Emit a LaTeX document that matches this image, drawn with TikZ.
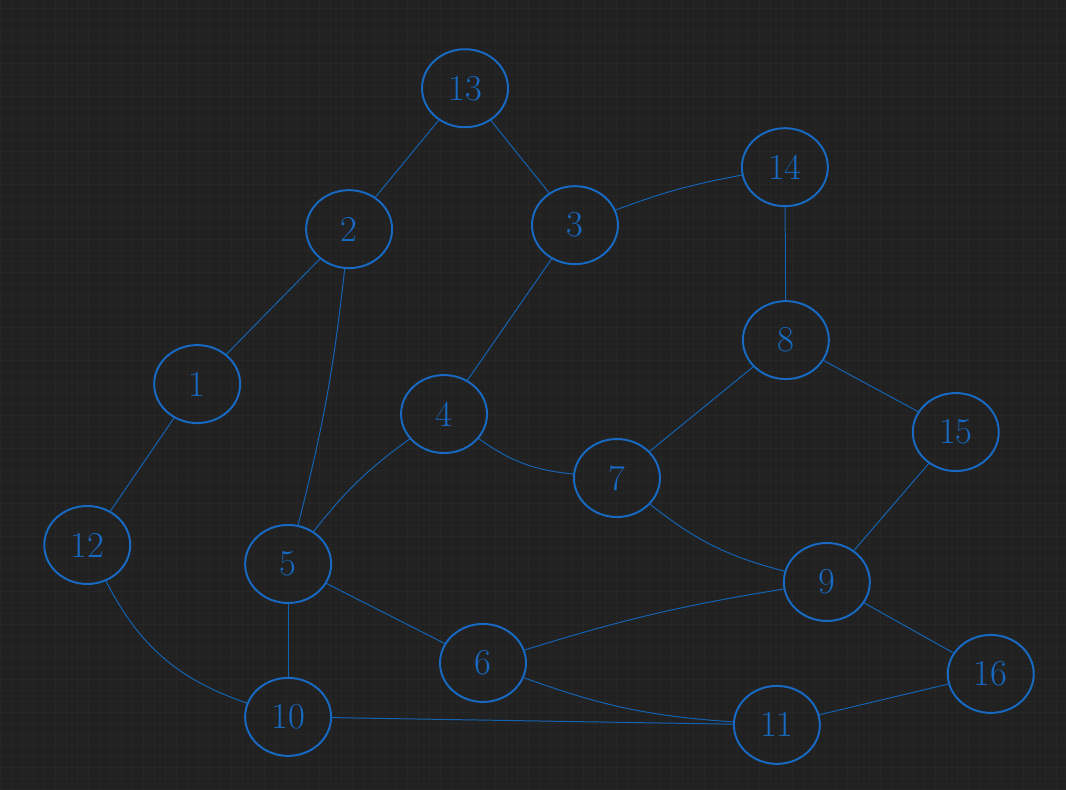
\documentclass[tikz,border=0pt]{standalone}
\usepackage{xcolor}
\usepackage{tikz}
\usetikzlibrary{shapes.geometric}
\definecolor{board}{HTML}{212121}
\definecolor{gridc}{HTML}{262626}
\definecolor{ink}{HTML}{1769C2}
\definecolor{inkthin}{HTML}{1463B3}
\tikzset{
  vtx/.style={draw=ink, ellipse, line width=1.4pt, minimum width=2.15cm, minimum height=1.95cm,
    inner sep=0pt, text=ink, font=\fontsize{26}{26}\selectfont},
  wire/.style={draw=inkthin, line width=0.7pt, line cap=round},
}
\begin{document}
\begin{tikzpicture}[x=0.025cm, y=0.025cm]
  \fill[board] (0,0) rectangle (1066,789);
  \draw[gridc, line width=0.4pt, step=0.275cm] (0,0) grid (1066,789);
  \useasboundingbox (0,0) rectangle (1066,789);

  \node[vtx] (n13) at (465,701) {13};
  \node[vtx] (n14) at (785,622) {14};
  \node[vtx] (n2)  at (349,560) {2};
  \node[vtx] (n3)  at (575,564) {3};
  \node[vtx] (n1)  at (197,405) {1};
  \node[vtx] (n8)  at (786,449) {8};
  \node[vtx] (n4)  at (444,375) {4};
  \node[vtx] (n7)  at (617,311) {7};
  \node[vtx] (n15) at (956,357) {15};
  \node[vtx] (n12) at (87,244)  {12};
  \node[vtx] (n5)  at (288,225) {5};
  \node[vtx] (n9)  at (827,207) {9};
  \node[vtx] (n6)  at (483,126) {6};
  \node[vtx] (n16) at (991,115) {16};
  \node[vtx] (n10) at (288,72)  {10};
  \node[vtx] (n11) at (777,64)  {11};

  \draw[wire] (n13) -- (n2);
  \draw[wire] (n13) -- (n3);
  \draw[wire] (n3) to[bend left=5] (n14);
  \draw[wire] (n14) -- (n8);
  \draw[wire] (n2) -- (n1);
  \draw[wire] (n2) to[bend left=4] (n5);
  \draw[wire] (n3) -- (n4);
  \draw[wire] (n8) -- (n7);
  \draw[wire] (n8) -- (n15);
  \draw[wire] (n4) to[bend right=15] (n7);
  \draw[wire] (n4) to[bend right=8] (n5);
  \draw[wire] (n1) -- (n12);
  \draw[wire] (n7) to[bend right=12] (n9);
  \draw[wire] (n15) -- (n9);
  \draw[wire] (n12) to[bend right=22] (n10);
  \draw[wire] (n5) -- (n10);
  \draw[wire] (n5) -- (n6);
  \draw[wire] (n6) to[bend left=4] (n9);
  \draw[wire] (n6) to[bend right=8] (n11);
  \draw[wire] (n10) -- (n11);
  \draw[wire] (n9) -- (n16);
  \draw[wire] (n11) -- (n16);
\end{tikzpicture}
\end{document}
